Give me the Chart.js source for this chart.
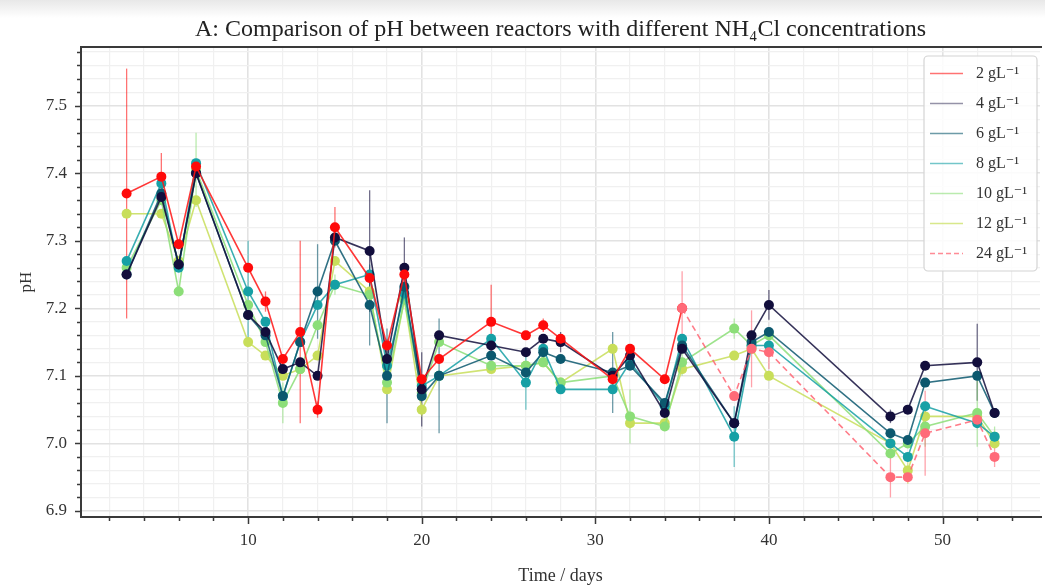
<!DOCTYPE html>
<html>
<head>
<meta charset="utf-8">
<script src="https://cdn.jsdelivr.net/npm/chart.js@4.4.1/dist/chart.umd.min.js"></script>
<style>
  html,body{margin:0;padding:0;background:#fff;}
  #wrap{position:relative;width:1045px;height:587px;}
  #shade{position:absolute;left:0;top:0;width:1045px;height:18px;background:linear-gradient(#e8e8e8,#ffffff);}
  canvas{position:absolute;left:0;top:0;}
</style>
</head>
<body>
<div id="wrap"><div id="shade"></div><canvas id="c" width="1045" height="587"></canvas></div>
<script>
// ---- data ----
const days = [3,5,6,7,10,11,12,13,14,15,17,18,19,20,21,24,26,27,28,31,32,34,35,38,39,40,47,48,49,52,53];
const seriesLabels = ['2 gL\u207B\u00B9','4 gL\u207B\u00B9','6 gL\u207B\u00B9','8 gL\u207B\u00B9','10 gL\u207B\u00B9','12 gL\u207B\u00B9','24 gL\u207B\u00B9'];
const ph2  = [7.37,7.395,7.295,7.41,7.26,7.21,7.125,7.165,7.05,7.32,7.245,7.145,7.25,7.095,7.125,7.18,7.16,7.175,7.155,7.095,7.14,7.095,7.2,null,null,null,null,null,null,null,null];
const ph4  = [7.25,7.365,7.265,7.40,7.19,7.165,7.11,7.12,7.10,7.305,7.285,7.125,7.26,7.08,7.16,7.145,7.135,7.155,7.15,7.10,7.13,7.045,7.14,7.03,7.16,7.205,7.04,7.05,7.115,7.12,7.045];
const ph6  = [7.25,7.37,7.265,7.40,7.19,7.16,7.07,7.15,7.225,7.30,7.205,7.10,7.232,7.07,7.10,7.13,7.105,7.135,7.125,7.105,7.115,7.06,7.145,7.03,7.15,7.165,7.015,7.005,7.09,7.10,7.045];
const ph8  = [7.27,7.385,7.26,7.415,7.225,7.18,7.07,7.15,7.205,7.235,7.25,7.115,7.222,7.085,7.10,7.155,7.09,7.14,7.08,7.08,7.12,7.055,7.155,7.01,7.145,7.145,7.00,6.98,7.055,7.03,7.01];
const ph10 = [7.26,7.36,7.225,7.405,7.205,7.15,7.06,7.11,7.175,7.235,7.22,7.09,7.213,7.075,7.15,7.115,7.115,7.12,7.09,7.10,7.04,7.025,7.12,7.17,7.145,7.16,6.985,7.0,7.025,7.045,7.01];
const ph12 = [7.34,7.34,7.27,7.36,7.15,7.13,7.10,7.11,7.13,7.27,7.225,7.08,7.213,7.05,7.10,7.11,7.115,7.12,7.09,7.14,7.03,7.03,7.11,7.13,7.14,7.10,7.0,6.96,7.04,7.04,7.0];
const ph24 = [null,null,null,null,null,null,null,null,null,null,null,null,null,null,null,null,null,null,null,null,null,null,7.2,7.07,7.14,7.135,6.95,6.95,7.015,7.035,6.98];
const err2  = [0.185,0.035,0,0,0,0.015,0,0.135,0.012,0.03,0,0.01,0,0,0,0.055,0,0.01,0,0,0,0,0,0,0,0,0,0,0,0,0];
const err4  = [0,0,0,0,0,0,0,0,0,0,0.09,0,0.045,0.055,0,0,0,0,0.015,0,0,0,0,0,0,0.022,0.01,0,0,0.057,0];
const err6  = [0,0,0,0,0,0,0,0,0.07,0,0.06,0.07,0,0,0.085,0,0,0,0,0.06,0,0,0,0,0,0,0,0,0,0,0];
const err8  = [0,0,0,0,0.075,0,0,0,0,0,0,0,0,0,0,0,0.04,0,0,0,0,0,0,0.045,0,0,0,0,0,0,0];
const err10 = [0,0,0,0.055,0,0,0.03,0,0,0.015,0,0,0,0,0,0,0,0,0,0,0.04,0,0.02,0.015,0,0,0,0,0.03,0.05,0.015];
const err12 = [0,0,0,0,0,0,0,0,0,0,0,0,0,0.01,0,0,0,0,0,0,0,0,0,0,0,0,0,0.02,0,0,0];
const err24 = [0,0,0,0,0,0,0,0,0,0,0,0,0,0,0,0,0,0,0,0,0,0,0.055,0,0.057,0.025,0.03,0,0.063,0,0.015];
const yTickLabels = ['6.9','7.0','7.1','7.2','7.3','7.4','7.5'];
const xTickLabels = ['10','20','30','40','50'];

// ---- styles ----
const series = [
  {v:ph2,  e:err2,  line:'rgba(255,20,20,0.85)',  pt:'#ff0a0a', leg:'rgba(255,20,20,0.6)', dash:[], order:0},
  {v:ph4,  e:err4,  line:'rgba(18,14,60,0.85)',   pt:'#120e3c', leg:'rgba(18,14,60,0.45)', dash:[], order:0},
  {v:ph6,  e:err6,  line:'rgba(12,88,110,0.85)',  pt:'#0c586e', leg:'rgba(12,88,110,0.6)', dash:[], order:0},
  {v:ph8,  e:err8,  line:'rgba(22,160,165,0.85)', pt:'#16a0a5', leg:'rgba(22,160,165,0.6)', dash:[], order:0},
  {v:ph10, e:err10, line:'rgba(140,222,120,0.85)',pt:'#8cde78', leg:'rgba(140,222,120,0.6)', dash:[], order:0},
  {v:ph12, e:err12, line:'rgba(200,222,90,0.85)', pt:'#c8de5a', leg:'rgba(200,222,90,0.7)', dash:[], order:0},
  {v:ph24, e:err24, line:'rgba(255,100,115,0.85)',pt:'#ff6a78', leg:'rgba(255,100,115,0.75)', dash:[6,4], order:-1}
];
const FONT = "'Liberation Serif', 'DejaVu Serif', serif";

const datasets = series.map((s,k)=>({
  label: seriesLabels[k],
  order: s.order,
  data: days.map((d,i)=>({x:d, y:s.v[i]})),
  borderColor: s.line,
  backgroundColor: s.pt,
  pointBackgroundColor: s.pt,
  pointBorderColor: s.pt,
  pointRadius: 5,
  pointBorderWidth: 0,
  borderWidth: 1.6,
  borderDash: s.dash,
  tension: 0,
  spanGaps: false,
  fill: false
}));

const round = (v,p)=>Math.round(v*p)/p;

const extrasPlugin = {
  id:'extras',
  beforeDraw(chart){
    const ctx = chart.ctx;
    ctx.save(); ctx.fillStyle='#fff'; ctx.fillRect(0,18,chart.width,chart.height-18); ctx.restore();
  },
  beforeDatasetsDraw(chart){
    const ctx = chart.ctx, y = chart.scales.y, x = chart.scales.x;
    ctx.save();
    series.forEach((s)=>{
      ctx.strokeStyle = s.line.replace(/[\d.]+\)$/,'0.6)');
      ctx.lineWidth = 1.3;
      days.forEach((d,i)=>{
        if (s.v[i]==null || !s.e[i]) return;
        const px = x.getPixelForValue(d);
        ctx.beginPath();
        ctx.moveTo(px, y.getPixelForValue(s.v[i]-s.e[i]));
        ctx.lineTo(px, y.getPixelForValue(s.v[i]+s.e[i]));
        ctx.stroke();
      });
    });
    ctx.restore();
  },
  afterDraw(chart){
    const ctx = chart.ctx, a = chart.chartArea, xs = chart.scales.x, ys = chart.scales.y;
    ctx.save();
    ctx.strokeStyle = '#3a3a3a';
    ctx.lineWidth = 2;
    ctx.beginPath();
    ctx.moveTo(a.right+2, a.top); ctx.lineTo(a.left, a.top); ctx.lineTo(a.left, a.bottom); ctx.lineTo(a.right+2, a.bottom);
    ctx.stroke();
    ctx.lineWidth = 1.5;
    xs.ticks.forEach(t=>{
      const major = round(t.value,1000)%10===0;
      const px = Math.round(xs.getPixelForValue(t.value))+0.5;
      ctx.beginPath(); ctx.moveTo(px, a.bottom); ctx.lineTo(px, a.bottom+(major?7:4)); ctx.stroke();
    });
    ys.ticks.forEach(t=>{
      const major = Math.abs(round(t.value*10,1000)-Math.round(t.value*10))<1e-6;
      const py = Math.round(ys.getPixelForValue(t.value))+0.5;
      ctx.beginPath(); ctx.moveTo(a.left, py); ctx.lineTo(a.left-(major?6:4), py); ctx.stroke();
    });
    const bx=924, by=56, bw=113, bh=215;
    ctx.fillStyle='rgba(255,255,255,0.85)';
    ctx.strokeStyle='#d4d4d4'; ctx.lineWidth=1.2;
    ctx.beginPath();
    if (ctx.roundRect) ctx.roundRect(bx,by,bw,bh,4); else ctx.rect(bx,by,bw,bh);
    ctx.fill(); ctx.stroke();
    ctx.font = "16px " + FONT;
    ctx.textBaseline='middle'; ctx.textAlign='left';
    series.forEach((s,k)=>{
      const ry = 73.5 + k*30;
      ctx.strokeStyle = s.leg; ctx.lineWidth=1.6; ctx.setLineDash(s.dash.length?[5,3]:[]);
      ctx.beginPath(); ctx.moveTo(930, ry); ctx.lineTo(963, ry); ctx.stroke();
      ctx.setLineDash([]);
      ctx.fillStyle='#333';
      ctx.fillText(seriesLabels[k], 976, ry);
    });
    ctx.restore();
  }
};

new Chart(document.getElementById('c'), {
  type:'line',
  data:{datasets},
  plugins:[extrasPlugin],
  options:{
    responsive:false,
    animation:false,
    events:[],
    layout:{padding:{left:0,right:0,top:0,bottom:0}},
    plugins:{
      legend:{display:false},
      tooltip:{enabled:false},
      title:{
        display:true,
        text:'A: Comparison of pH between reactors with different NH\u2084Cl concentrations',
        fullSize:false,
        color:'#222',
        font:{family:FONT, size:24, weight:'normal', lineHeight:1.2},
        padding:{top:15, bottom:3.2}
      }
    },
    scales:{
      x:{
        type:'linear',
        min:0.372, max:55.616,
        afterFit(s){ s.height = 70; },
        afterBuildTicks(s){ const t=[]; for(let v=2; v<=54; v+=2) t.push({value:v}); s.ticks=t; },
        border:{display:false},
        grid:{
          drawTicks:false,
          color:(c)=> (c.tick && c.tick.value%10===0) ? '#e2e2e2' : '#f0f0f0',
          lineWidth:(c)=> (c.tick && c.tick.value%10===0) ? 1.6 : 1.2
        },
        ticks:{
          autoSkip:false, maxRotation:0, padding:13,
          color:'#333', font:{family:FONT, size:17},
          callback:(v)=>{ const i = xTickLabels.indexOf(String(v)); return i>=0 ? xTickLabels[i] : ''; }
        },
        title:{display:true, text:'Time / days', color:'#333', font:{family:FONT, size:18}, padding:{top:0,bottom:0}}
      },
      y:{
        type:'linear',
        min:6.891, max:7.587,
        afterFit(s){ s.width = 81; },
        afterBuildTicks(s){ const t=[]; for(let k=0; k<=34; k++) t.push({value: round(6.9+k*0.02, 1000)}); s.ticks=t; },
        border:{display:false},
        grid:{
          drawTicks:false,
          color:(c)=>{ const v=c.tick?c.tick.value:0; return Math.abs(v*10-Math.round(v*10))<1e-6 ? '#e2e2e2' : '#f0f0f0'; },
          lineWidth:(c)=>{ const v=c.tick?c.tick.value:0; return Math.abs(v*10-Math.round(v*10))<1e-6 ? 1.6 : 1.2; }
        },
        ticks:{
          autoSkip:false, padding:14,
          color:'#333', font:{family:FONT, size:17},
          callback:(v)=>{ const s = (Math.round(v*100)/100).toFixed(1); return (Math.abs(v*10-Math.round(v*10))<1e-6 && yTickLabels.includes(s)) ? s : ''; }
        },
        title:{display:true, text:'pH', color:'#333', font:{family:FONT, size:17}, padding:{top:16,bottom:0}}
      }
    }
  }
});
</script>
</body>
</html>
